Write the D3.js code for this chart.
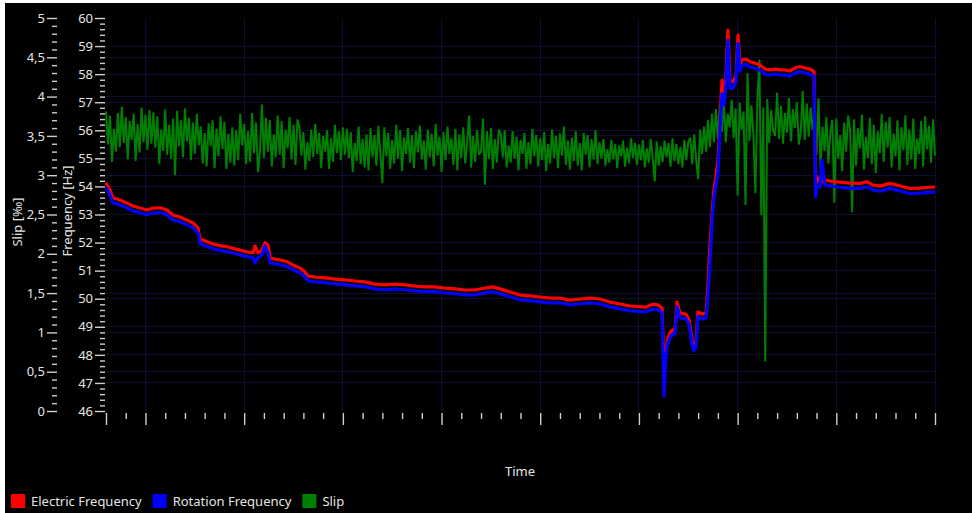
<!DOCTYPE html>
<html>
<head>
<meta charset="utf-8">
<script src="https://cdn.jsdelivr.net/npm/d3@7"></script>
<style>
  html, body { margin: 0; padding: 0; background: #ffffff; }
  svg { display: block; }
  text { font-family: "Noto Sans", "Open Sans", sans-serif; fill: #e4e4e4; }
</style>
</head>
<body>
<svg id="chart" width="972" height="513"></svg>
<script>
// ---- Data -------------------------------------------------------------
// Time in minutes from the start of the recording
const freqTime = [
  0, 0.20, 0.35, 0.56, 0.81, 1.06, 1.37, 1.72, 2.08, 2.38,
  2.74, 3.09, 3.39, 3.75, 4.10, 4.41, 4.66, 4.76, 4.91, 5.12,
  5.42, 5.78, 6.13, 6.43, 6.79, 7.14, 7.45, 7.55, 7.70, 7.90,
  8.06, 8.21, 8.31, 8.56, 8.82, 9.17, 9.47, 9.83, 10.08, 10.23,
  10.59, 11.10, 11.60, 12.11, 12.62, 13.12, 13.63, 14.14, 14.64, 15.15,
  15.66, 16.16, 16.67, 17.17, 17.68, 18.19, 18.69, 19.20, 19.56, 19.96,
  20.47, 20.98, 21.48, 21.99, 22.50, 23.00, 23.51, 24.01, 24.52, 25.03,
  25.53, 26.04, 26.55, 27.05, 27.36, 27.66, 27.97, 28.17, 28.27, 28.37,
  28.47, 28.63, 28.83, 28.93, 29.08, 29.39, 29.54, 29.69, 29.79, 29.89,
  29.99, 30.20, 30.40, 30.50, 30.60, 30.70, 30.80, 30.91, 31.01, 31.11,
  31.21, 31.31, 31.41, 31.51, 31.61, 31.77, 31.92, 32.02, 32.12, 32.22,
  32.42, 32.63, 32.88, 33.13, 33.39, 33.64, 33.89, 34.15, 34.40, 34.65,
  34.91, 35.16, 35.42, 35.67, 35.87, 35.95, 36.02, 36.17, 36.27, 36.42,
  36.83, 37.18, 37.69, 38.20, 38.56, 38.86, 39.21, 39.72, 40.07, 40.37,
  40.73, 41.24, 41.75, 42.00
];

// Electric frequency [Hz]
const electricFrequency = [
  54.13, 53.87, 53.59, 53.55, 53.48, 53.41, 53.30, 53.23, 53.16, 53.23,
  53.24, 53.16, 52.98, 52.91, 52.80, 52.70, 52.52, 52.13, 52.09, 52.03,
  51.95, 51.89, 51.85, 51.80, 51.73, 51.67, 51.64, 51.88, 51.63, 51.73,
  52.00, 51.91, 51.45, 51.41, 51.38, 51.32, 51.20, 51.09, 50.95, 50.81,
  50.77, 50.74, 50.70, 50.67, 50.63, 50.60, 50.52, 50.49, 50.52, 50.49,
  50.45, 50.42, 50.42, 50.38, 50.35, 50.31, 50.31, 50.38, 50.42, 50.35,
  50.24, 50.13, 50.10, 50.06, 50.02, 50.02, 49.95, 49.99, 50.02, 49.99,
  49.88, 49.81, 49.74, 49.72, 49.70, 49.80, 49.78, 49.67, 47.53, 48.17,
  48.60, 48.85, 48.92, 49.88, 49.49, 49.45, 49.24, 48.53, 48.31, 48.46,
  49.53, 49.45, 49.49, 50.49, 51.91, 52.98, 53.87, 54.41, 54.94, 56.37,
  57.79, 57.26, 57.86, 59.57, 57.79, 57.72, 57.97, 59.39, 58.33, 58.50,
  58.54, 58.44, 58.39, 58.33, 58.18, 58.15, 58.18, 58.15, 58.15, 58.11,
  58.22, 58.27, 58.22, 58.18, 58.09, 53.98, 54.35, 54.17, 54.16, 54.23,
  54.17, 54.15, 54.12, 54.11, 54.17, 54.05, 54.01, 54.11, 54.05, 53.99,
  53.93, 53.94, 53.97, 53.98
];

// Rotation frequency [Hz]
const rotationFrequency = [
  53.96, 53.70, 53.42, 53.38, 53.31, 53.24, 53.13, 53.06, 52.99, 53.06,
  53.07, 52.99, 52.81, 52.74, 52.63, 52.53, 52.35, 51.96, 51.92, 51.86,
  51.78, 51.72, 51.68, 51.63, 51.56, 51.50, 51.47, 51.27, 51.46, 51.56,
  51.88, 51.60, 51.28, 51.24, 51.21, 51.15, 51.03, 50.92, 50.78, 50.64,
  50.60, 50.57, 50.53, 50.50, 50.46, 50.43, 50.35, 50.32, 50.35, 50.32,
  50.28, 50.25, 50.25, 50.21, 50.18, 50.14, 50.14, 50.21, 50.25, 50.18,
  50.07, 49.96, 49.93, 49.89, 49.85, 49.85, 49.78, 49.82, 49.85, 49.82,
  49.71, 49.64, 49.57, 49.55, 49.53, 49.63, 49.61, 49.50, 46.53, 48.00,
  48.43, 48.68, 48.75, 49.71, 49.32, 49.28, 49.07, 48.36, 48.14, 48.29,
  49.36, 49.28, 49.32, 50.10, 51.30, 52.70, 53.60, 54.10, 54.50, 56.10,
  57.30, 56.90, 57.60, 59.20, 57.50, 57.50, 57.75, 59.10, 58.10, 58.30,
  58.35, 58.26, 58.21, 58.15, 58.00, 57.97, 58.00, 57.97, 57.97, 57.93,
  58.04, 58.09, 58.04, 58.00, 57.91, 53.62, 53.99, 53.97, 54.94, 54.05,
  54.00, 53.97, 53.94, 53.93, 53.99, 53.87, 53.83, 53.93, 53.87, 53.81,
  53.75, 53.76, 53.79, 53.80
];

// Slip [‰], one sample every 0.1 min
const slipStep = 0.1;
const slip = [
  3.81, 3.39, 3.76, 3.17, 3.59, 3.30, 3.79, 3.36, 3.87, 3.41, 3.74, 3.20, 3.69, 3.45, 3.78, 3.18, 3.65, 3.29, 3.86, 3.42,
  3.77, 3.32, 3.83, 3.40, 3.80, 3.35, 3.75, 3.14, 3.58, 3.31, 3.84, 3.26, 3.64, 3.21, 3.72, 3.00, 3.82, 3.37, 3.70, 3.23,
  3.85, 3.43, 3.73, 3.19, 3.67, 3.27, 3.78, 3.38,
  3.62, 3.15, 3.54, 3.11, 3.66, 3.37, 3.70, 3.09, 3.59, 3.24, 3.75, 3.33, 3.68, 3.08, 3.53, 3.16, 3.61, 3.12, 3.57, 3.19,
  3.78, 3.38, 3.65, 3.14, 3.56, 3.17, 3.79, 3.28, 3.67, 3.04, 3.30, 3.90, 3.22, 3.73, 3.30, 3.70, 3.11, 3.52, 3.23, 3.76,
  3.26, 3.69, 3.09, 3.58, 3.34, 3.74, 3.20, 3.64, 3.13, 3.71,
  3.60, 3.25, 3.55, 3.07, 3.42, 3.18, 3.58, 3.23, 3.65, 3.27, 3.54, 3.09, 3.50, 3.30, 3.57, 3.08, 3.47, 3.17, 3.64, 3.28,
  3.56, 3.19, 3.61, 3.26, 3.59, 3.22, 3.55, 3.04, 3.41, 3.18, 3.62, 3.14, 3.46, 3.10, 3.52, 3.06, 3.60, 3.23, 3.51, 3.12,
  3.63, 3.28, 2.90, 3.61, 3.24, 3.54, 3.08, 3.45, 3.15, 3.64, 3.21, 3.57, 3.05, 3.48, 3.27, 3.60, 3.16, 3.51, 3.09, 3.56,
  3.29, 3.63, 3.20, 3.44, 3.07, 3.58, 3.23, 3.53, 3.11, 3.65, 3.25, 3.49, 3.04, 3.55, 3.19, 3.62, 3.27, 3.47, 3.13, 3.59,
  3.06, 3.52, 3.22, 3.61, 3.15, 3.42, 3.76, 3.10, 3.50, 3.17, 3.57, 3.26, 3.30, 3.72, 2.88, 3.56, 3.21, 3.60, 3.08, 3.46,
  3.16, 3.58,
  3.52, 3.23, 3.57, 3.10, 3.38, 3.16, 3.56, 3.21, 3.49, 3.06, 3.45, 3.27, 3.54, 3.08, 3.42, 3.14, 3.59, 3.24, 3.51, 3.11,
  3.47, 3.19, 3.55, 3.05, 3.40, 3.15, 3.58, 3.22, 3.50, 3.09, 3.53, 3.25, 3.62, 3.13, 3.44, 3.07, 3.48, 3.18, 3.56, 3.12,
  3.41, 3.06, 3.54, 3.26, 3.51, 3.10, 3.46, 3.20, 3.57, 3.14, 3.42, 3.21, 3.46, 3.12, 3.33, 3.16, 3.45, 3.20, 3.40, 3.09,
  3.38, 3.24, 3.44, 3.11, 3.35, 3.15, 3.47, 3.22, 3.41, 3.13, 3.39, 3.19, 3.45, 3.10, 3.34, 3.16, 3.46, 3.21, 2.92, 3.43,
  3.12, 3.37, 3.17, 3.44, 3.23, 3.41, 3.11, 3.47, 3.18, 3.40, 3.14, 3.36, 3.10, 3.45, 3.19, 3.42,
  3.48, 3.14, 3.52, 3.20, 2.95, 3.58, 3.27, 3.62, 3.30, 3.70, 3.36, 3.78, 3.42, 3.84, 3.46,
  3.90, 3.55, 3.94, 3.42, 3.78, 3.61, 3.96, 3.47, 3.85, 2.74, 3.92, 3.58, 3.81, 2.62, 4.30, 3.44, 3.89, 3.52, 2.77, 3.93,
  4.47, 2.49, 3.86, 0.63, 3.97, 3.41, 3.83, 3.57, 3.50, 4.05, 3.46, 3.88, 3.40, 3.79, 3.54, 3.98, 3.43, 3.84, 3.60, 3.93,
  3.39, 3.55, 4.07, 3.45, 3.91, 3.49, 3.86, 3.58,
  3.78, 3.26, 3.98, 3.09, 3.62, 3.31, 3.74, 3.15, 3.55, 3.70, 2.65, 3.72, 3.21, 3.51, 3.05, 3.67, 3.30, 3.76, 3.58, 2.53,
  3.71, 3.12, 3.60, 3.34, 3.77, 3.07, 3.49, 3.22, 3.73, 3.14, 3.64, 3.03, 3.56, 3.28, 3.78, 3.17, 3.68, 3.35, 3.74, 3.10,
  3.53, 3.24, 3.70, 3.06, 3.61, 3.32, 3.76, 3.13, 3.58, 3.20, 3.72, 3.08, 3.47, 3.27, 3.69, 3.11, 3.75, 3.33, 3.63, 3.16,
  3.71, 3.25
];

// Axis ticks
const slipMajorTicks = [0, 0.5, 1, 1.5, 2, 2.5, 3, 3.5, 4, 4.5, 5];
const slipTickLabels = ["0", "0,5", "1", "1,5", "2", "2,5", "3", "3,5", "4", "4,5", "5"];
const freqMajorTicks = [46, 47, 48, 49, 50, 51, 52, 53, 54, 55, 56, 57, 58, 59, 60];
const timeMajorTicks = [2, 7, 12, 17, 22, 27, 32, 37, 42];

const seriesNames = ["Electric Frequency", "Rotation Frequency", "Slip"];
const seriesColors = ["#ff0000", "#0000ff", "#008000"];

// ---- Layout -----------------------------------------------------------
const svg = d3.select("#chart");
const plot = { left: 106, right: 935, top: 18, bottom: 411 };

svg.append("rect")
  .attr("x", 5).attr("y", 3)
  .attr("width", 967).attr("height", 510)
  .attr("fill", "#000000");

const x = d3.scaleLinear().domain([0, 42]).range([plot.left, plot.right]);
const ySlip = d3.scaleLinear().domain([0, 5]).range([plot.bottom, plot.top]);
const yFreq = d3.scaleLinear().domain([46, 60]).range([plot.bottom, plot.top]);

const minorOf = (lo, hi, step, majors) =>
  d3.range(Math.round((hi - lo) / step) + 1)
    .map(i => +(lo + i * step).toFixed(3))
    .filter(v => !majors.some(m => Math.abs(m - v) < 1e-6));

// ---- Grid -------------------------------------------------------------
const gridColor = "#0d0d36";
const grid = svg.append("g").attr("shape-rendering", "crispEdges");
const hGrid = [
  ...slipMajorTicks.filter(v => v > 0 && v < 5).map(v => ySlip(v)),
  ...freqMajorTicks.filter(v => v > 46 && v < 60).map(v => yFreq(v))
];
grid.selectAll("line.h").data(hGrid).join("line")
  .attr("x1", plot.left).attr("x2", plot.right)
  .attr("y1", d => d).attr("y2", d => d)
  .attr("stroke", gridColor).attr("stroke-width", 1);
grid.selectAll("line.v").data(timeMajorTicks).join("line")
  .attr("x1", d => x(d)).attr("x2", d => x(d))
  .attr("y1", plot.top).attr("y2", plot.bottom)
  .attr("stroke", gridColor).attr("stroke-width", 1);

// ---- Axes -------------------------------------------------------------
const tickColor = "#cfcfcf";
function styleAxis(g) {
  g.select(".domain").remove();
  g.selectAll(".tick line").attr("stroke", tickColor);
  g.selectAll(".tick text")
    .attr("fill", "#e4e4e4")
    .style("font-size", "13px")
    .style("font-family", "\"Noto Sans\", \"Open Sans\", sans-serif");
}

// Slip axis (outer left)
svg.append("g").attr("transform", "translate(57,0)")
  .call(d3.axisLeft(ySlip).tickValues(minorOf(0, 5, 0.1, slipMajorTicks)).tickSize(5).tickFormat(""))
  .call(styleAxis);
svg.append("g").attr("transform", "translate(57,0)")
  .call(d3.axisLeft(ySlip).tickValues(slipMajorTicks).tickSize(10).tickPadding(2)
    .tickFormat((d, i) => slipTickLabels[i]))
  .call(styleAxis);

// Frequency axis (inner left)
svg.append("g").attr("transform", "translate(105,0)")
  .call(d3.axisLeft(yFreq).tickValues(minorOf(46, 60, 0.2, freqMajorTicks)).tickSize(5).tickFormat(""))
  .call(styleAxis);
svg.append("g").attr("transform", "translate(105,0)")
  .call(d3.axisLeft(yFreq).tickValues(freqMajorTicks).tickSize(10).tickPadding(2).tickFormat(d3.format("d")))
  .call(styleAxis);

// Time axis (ticks only)
svg.append("g").attr("transform", "translate(0,413)")
  .call(d3.axisBottom(x).tickValues(minorOf(0, 42, 1, [0, ...timeMajorTicks])).tickSize(6).tickFormat(""))
  .call(styleAxis);
svg.append("g").attr("transform", "translate(0,413)")
  .call(d3.axisBottom(x).tickValues([0, ...timeMajorTicks]).tickSize(12).tickFormat(""))
  .call(styleAxis);
svg.selectAll(".tick line").attr("stroke-width", 1.4);

// Axis titles
svg.append("text")
  .attr("transform", "translate(19,222) rotate(-90)")
  .attr("text-anchor", "middle").attr("dominant-baseline", "middle")
  .style("font-size", "13px")
  .text("Slip [‰]");
svg.append("text")
  .attr("transform", "translate(69,211) rotate(-90)")
  .attr("text-anchor", "middle").attr("dominant-baseline", "middle")
  .style("font-size", "13px")
  .text("Frequency [Hz]");
svg.append("text")
  .attr("x", 520).attr("y", 473)
  .attr("text-anchor", "middle").attr("dominant-baseline", "middle")
  .style("font-size", "13px")
  .text("Time");

// ---- Series -----------------------------------------------------------
const slipLine = d3.line()
  .x((d, i) => x(i * slipStep))
  .y(d => ySlip(d));
svg.append("path")
  .datum(slip)
  .attr("d", slipLine)
  .attr("fill", "none")
  .attr("stroke", seriesColors[2])
  .attr("stroke-width", 2)
  .attr("stroke-linejoin", "bevel");

const freqLine = d3.line()
  .x((d, i) => x(freqTime[i]))
  .y(d => yFreq(d));
svg.append("path")
  .datum(electricFrequency)
  .attr("d", freqLine)
  .attr("fill", "none")
  .attr("stroke", seriesColors[0])
  .attr("stroke-width", 3.2)
  .attr("stroke-linejoin", "round");
svg.append("path")
  .datum(rotationFrequency)
  .attr("d", freqLine)
  .attr("fill", "none")
  .attr("stroke", seriesColors[1])
  .attr("stroke-width", 3.2)
  .attr("stroke-linejoin", "round");

// ---- Legend -----------------------------------------------------------
const legend = svg.append("g");
let lx = 11;
seriesNames.forEach((name, i) => {
  legend.append("rect")
    .attr("x", lx).attr("y", 494)
    .attr("width", 14).attr("height", 14)
    .attr("fill", seriesColors[i]);
  const t = legend.append("text")
    .attr("x", lx + 20).attr("y", 506)
    .style("font-size", "13px")
    .text(name);
  lx += 20 + t.node().getComputedTextLength() + 11;
});
</script>
</body>
</html>
